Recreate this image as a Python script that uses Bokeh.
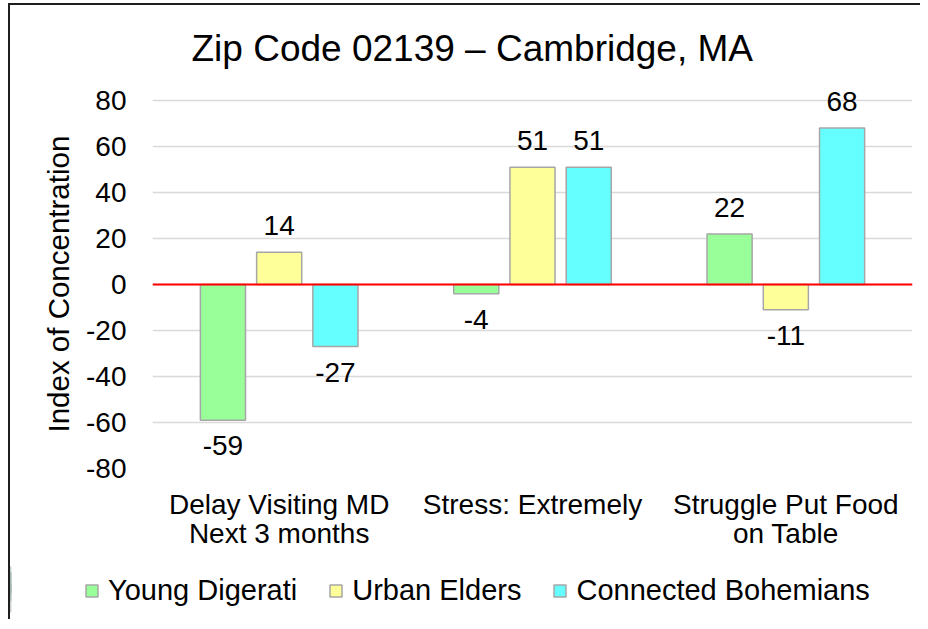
from bokeh.plotting import figure
from bokeh.layouts import column, row
from bokeh.models import (ColumnDataSource, LabelSet, Legend, LegendItem,
                          FixedTicker, Span, Title)
from bokeh.core.properties import value
from bokeh.embed import file_html
from bokeh.resources import INLINE

# ---- data ----
categories = ["Delay Visiting MD\nNext 3 months", "Stress: Extremely",
              "Struggle Put Food\non Table"]
series_names = ["Young Digerati", "Urban Elders", "Connected Bohemians"]
young_digerati = [-59, -4, 22]
urban_elders = [14, 51, -11]
connected_bohemians = [-27, 51, 68]
y_ticks = [-80, -60, -40, -20, 0, 20, 40, 60, 80]
title_text = "Zip Code 02139 \u2013 Cambridge, MA"
y_label = "Index of Concentration"

# ---- style ----
colors = ["#99FF99", "#FFFF99", "#66FFFF"]
edge = "#A6A6A6"
offsets = [-0.222, 0.0, 0.222]
bar_width = 0.178
FONT = "Liberation Sans"
FS = "28px"
W = 910

p = figure(width=W, height=555, output_backend="svg", toolbar_location=None,
           x_range=(0, 3), y_range=(-80, 85.2),
           min_border_left=142, min_border_right=8,
           min_border_top=83, min_border_bottom=92)
p.outline_line_color = None
p.background_fill_color = "white"
p.border_fill_color = "white"

# title
p.title.text = title_text
p.title.align = "left"
p.title.offset = 39
p.title.text_font = FONT
p.title.text_font_size = "37px"
p.title.text_font_style = "normal"
p.title.text_color = "black"
p.title.standoff = 40

# grid
p.xgrid.visible = False
p.ygrid.ticker = FixedTicker(ticks=y_ticks)
p.ygrid.grid_line_color = "#D9D9D9"
p.ygrid.grid_line_width = 1.5

# y axis
p.yaxis.ticker = FixedTicker(ticks=y_ticks)
p.yaxis.major_label_overrides = {t: str(t) for t in y_ticks}
p.yaxis.axis_line_color = None
p.yaxis.major_tick_line_color = None
p.yaxis.minor_tick_line_color = None
p.yaxis.major_tick_in = 0
p.yaxis.major_tick_out = 0
p.yaxis.major_label_standoff = 26
p.yaxis.major_label_text_font = FONT
p.yaxis.major_label_text_font_size = FS
p.yaxis.major_label_text_color = "black"

# y axis title (as a side title so it can be centred on the gridded span)
p.add_layout(Title(text=y_label, align="left", offset=36, standoff=18,
                   text_font=FONT, text_font_size="29.5px",
                   text_font_style="normal", text_color="black"), "left")

# x axis
cat_ticks = [i + 0.5 for i in range(len(categories))]
p.xaxis.ticker = FixedTicker(ticks=cat_ticks)
p.xaxis.major_label_overrides = {t: c for t, c in zip(cat_ticks, categories)}
p.xaxis.axis_line_color = None
p.xaxis.major_tick_line_color = None
p.xaxis.minor_tick_line_color = None
p.xaxis.major_tick_in = 0
p.xaxis.major_tick_out = 0
p.xaxis.major_label_standoff = 20
p.xaxis.major_label_text_font = FONT
p.xaxis.major_label_text_font_size = FS
p.xaxis.major_label_text_line_height = 0.95
p.xaxis.major_label_text_color = "black"

# bars and value labels
series_values = [young_digerati, urban_elders, connected_bohemians]
sources = []
for j, (name, vals) in enumerate(zip(series_names, series_values)):
    xs = [i + 0.5 + offsets[j] for i in range(len(categories))]
    src = ColumnDataSource(dict(x=xs, v=vals))
    sources.append(src)
    p.vbar(x="x", top="v", bottom=0, width=bar_width, source=src,
           fill_color=colors[j], line_color=edge, line_width=1.5)
    pos = dict(x=[x for x, v in zip(xs, vals) if v >= 0],
               v=[v for v in vals if v >= 0],
               lbl=[str(v) for v in vals if v >= 0])
    neg = dict(x=[x for x, v in zip(xs, vals) if v < 0],
               v=[v for v in vals if v < 0],
               lbl=[str(v) for v in vals if v < 0])
    p.add_layout(LabelSet(x="x", y="v", text="lbl", source=ColumnDataSource(pos),
                          text_align="center", text_baseline="alphabetic",
                          y_offset=17, text_font=value(FONT),
                          text_font_size=value(FS), text_color="black"))
    p.add_layout(LabelSet(x="x", y="v", text="lbl", source=ColumnDataSource(neg),
                          text_align="center", text_baseline="top",
                          y_offset=-16, text_font=value(FONT),
                          text_font_size=value(FS), text_color="black"))

# zero line
p.add_layout(Span(location=0, dimension="width", line_color="#FF0000",
                  line_width=2))

# legend strip: its own small figure (bars kept out of its visible range)
leg = figure(width=W, height=59, output_backend="svg", toolbar_location=None,
             x_range=(3, 4), y_range=(-80, 85.2),
             min_border=0, min_border_left=0, min_border_right=0,
             min_border_top=0, min_border_bottom=0)
leg.axis.visible = False
leg.grid.visible = False
leg.outline_line_color = None
leg.background_fill_color = "white"
leg.border_fill_color = "white"
leg_renderers = [leg.vbar(x="x", top="v", bottom=0, width=bar_width, source=s,
                          fill_color=c, line_color=edge, line_width=1.5)
                 for s, c in zip(sources, colors)]
legend = Legend(items=[LegendItem(label=n, renderers=[r])
                       for n, r in zip(series_names, leg_renderers)],
                orientation="horizontal", location=(74, 12),
                glyph_width=15, glyph_height=15, label_standoff=9,
                spacing=31, padding=0, margin=0,
                border_line_color=None, background_fill_alpha=0,
                label_text_font=FONT, label_text_font_size="29px",
                label_text_color="black")
leg.add_layout(legend, "center")

page = column(p, row(leg), spacing=0,
              styles={"margin-left": "10px", "margin-top": "5px",
                      "overflow": "hidden",
                      "outline": "2px solid #1f1f1f",
                      "clip-path": "inset(-2px 0px 0px -2px)"})

open("out.html", "w").write(file_html(page, INLINE))
